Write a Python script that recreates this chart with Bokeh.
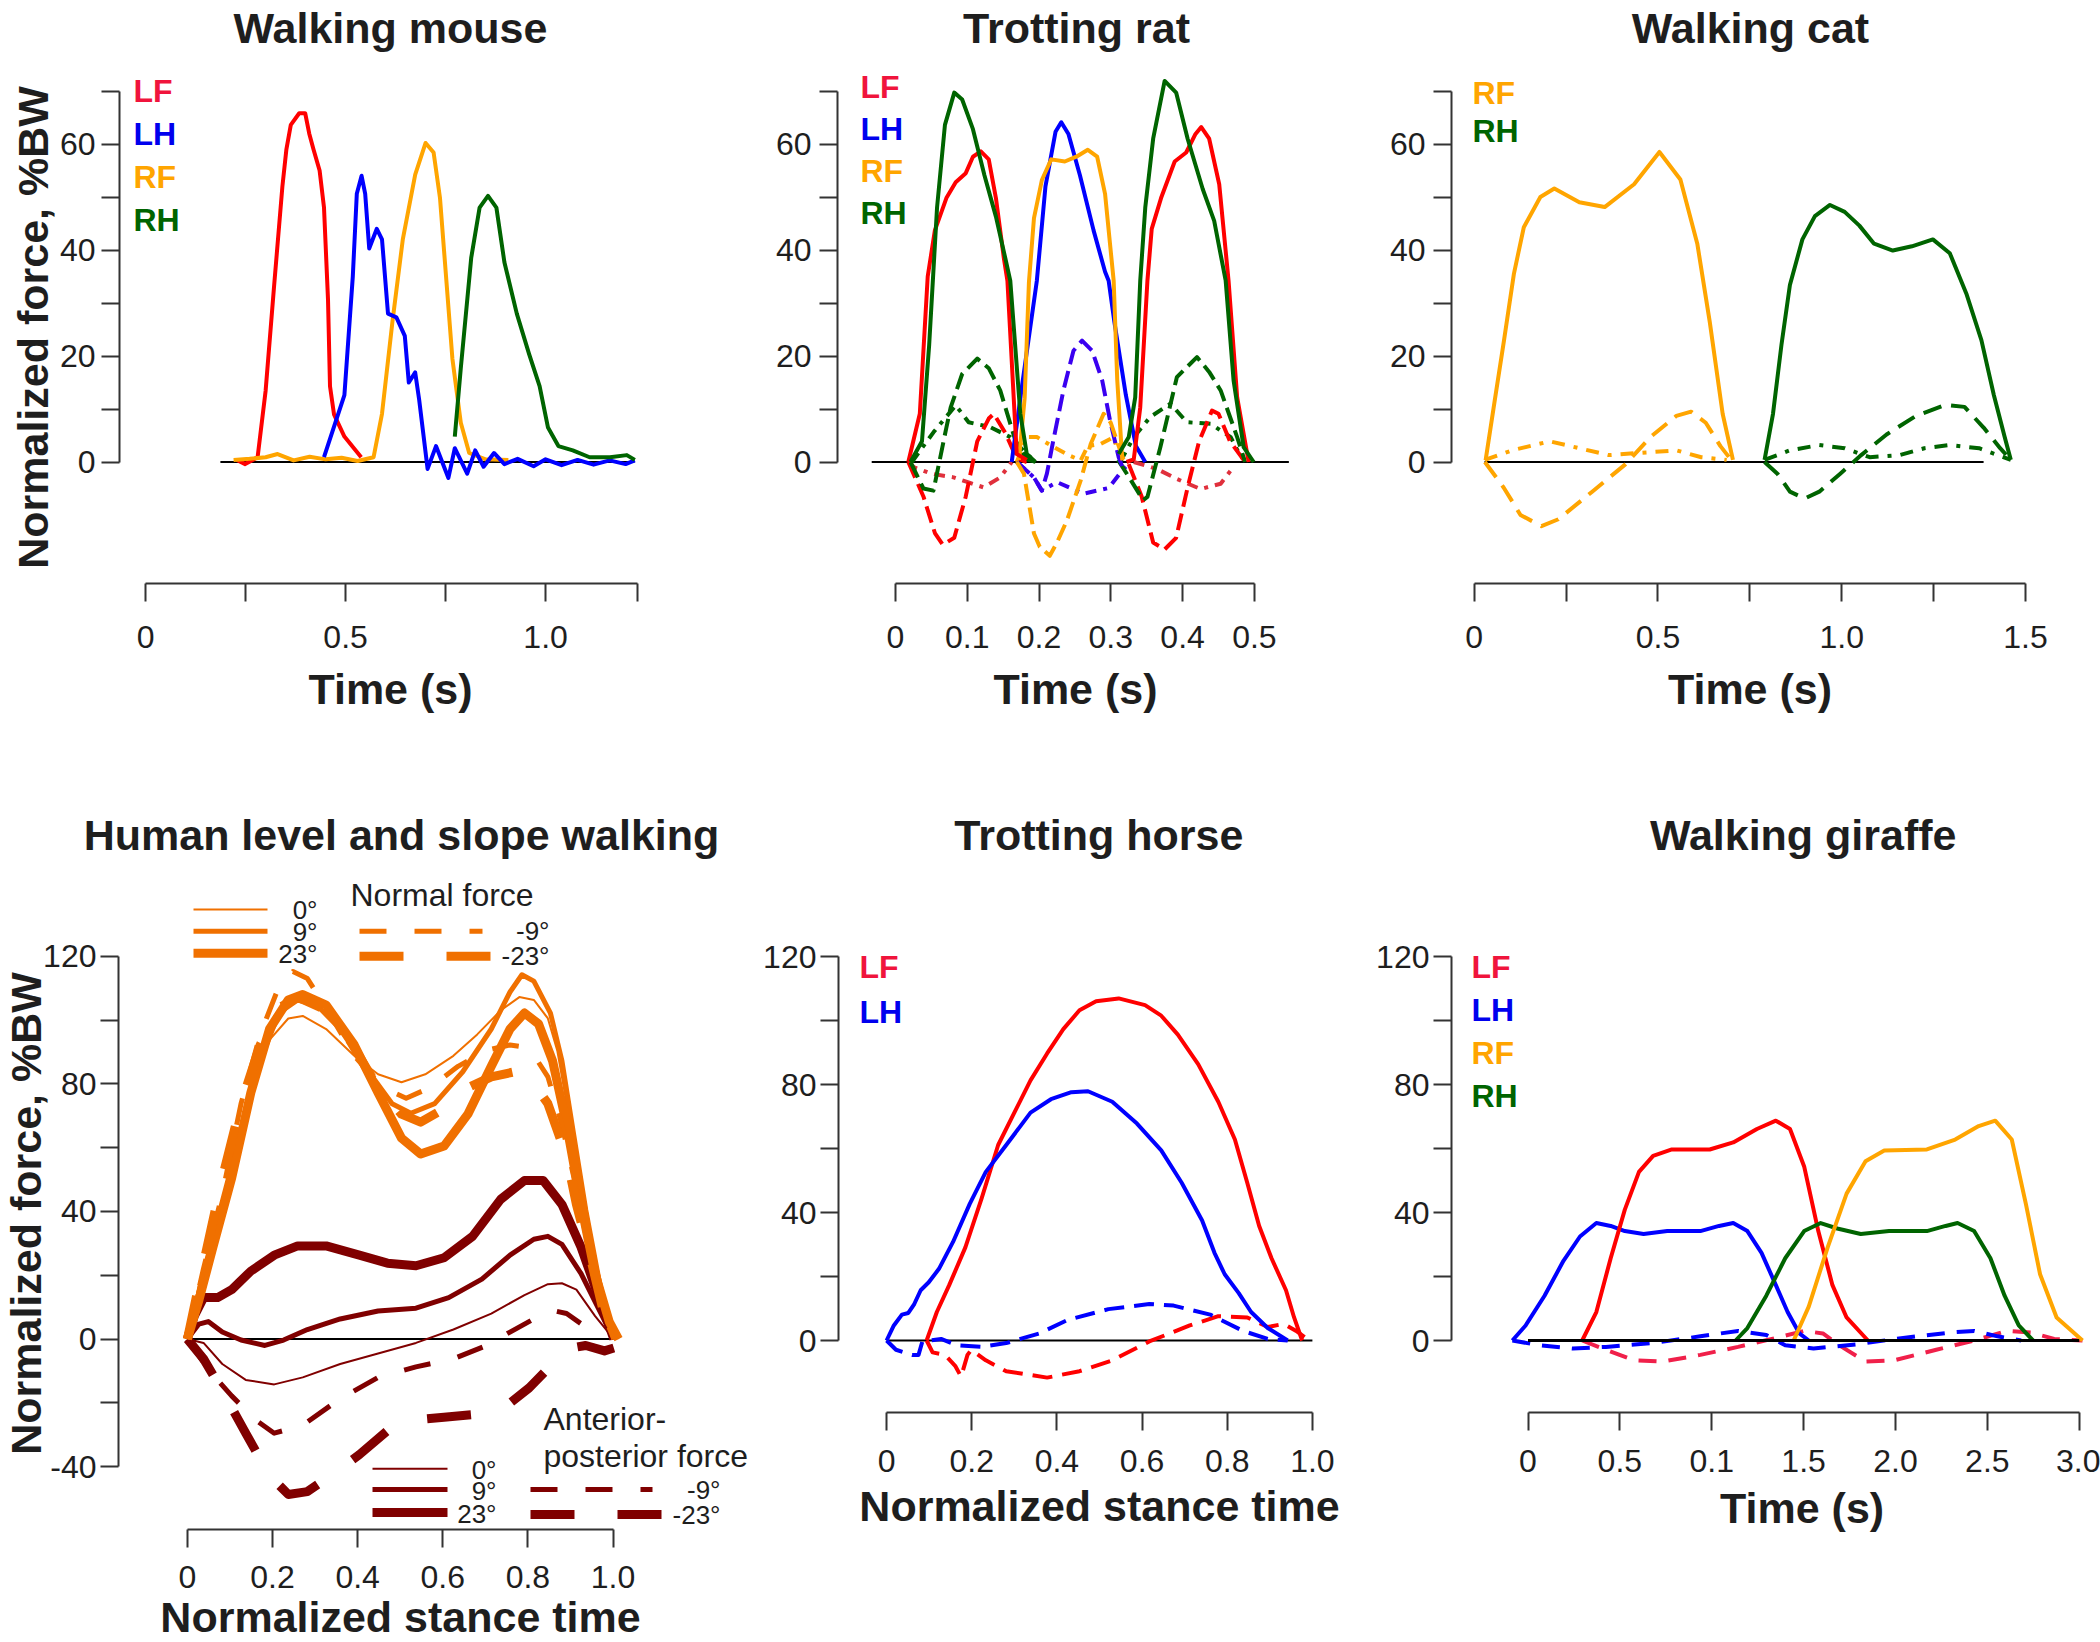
from bokeh.plotting import figure
from bokeh.models import Range1d, FixedTicker, Label, Title
from bokeh.layouts import row, column
from bokeh.embed import file_html
from bokeh.resources import INLINE

FONT = "Liberation Sans"
INK = "#1e1e1e"
AXC = "#333333"
BIG = 43

C_LF, C_LH, C_RF, C_RH = "#ff0000", "#0000ff", "#ffa500", "#006400"
T_LF, T_LH = "#f0143c", "#0000ee"
C_LH2 = "#3a00f0"
C_LF2 = "#e0303c"
C_LF3 = "#f0204a"
C_NORM, C_AP = "#f07000", "#800000"

# ---------------- data ----------------
limbs = ["LF", "LH", "RF", "RH"]
limb_colors = [T_LF, T_LH, C_RF, C_RH]

# Walking mouse (time s, %BW)
mouse_LF_t = [0.228, 0.249, 0.280, 0.300, 0.321, 0.342, 0.352, 0.363, 0.384, 0.399, 0.409, 0.420, 0.435, 0.446, 0.456, 0.461, 0.471, 0.497, 0.539]
mouse_LF_f = [0.4, -0.4, 0.9, 13.4, 33.0, 52.0, 59.0, 63.6, 65.8, 65.8, 62.0, 58.9, 55.0, 48.0, 30.7, 14.3, 9.0, 4.8, 0.9]
mouse_LH_t = [0.446, 0.497, 0.518, 0.528, 0.540, 0.549, 0.559, 0.578, 0.591, 0.606, 0.627, 0.648, 0.658, 0.674, 0.684, 0.705, 0.726, 0.757, 0.773, 0.804, 0.824, 0.845, 0.871, 0.897, 0.93, 0.97, 1.00, 1.04, 1.08, 1.12, 1.16, 1.20, 1.223]
mouse_LH_f = [0.9, 12.6, 35.0, 50.6, 54.0, 50.6, 40.3, 44.0, 42.0, 28.0, 27.3, 23.8, 15.0, 16.9, 11.7, -1.3, 3.0, -3.0, 2.6, -2.2, 2.2, -0.9, 1.7, -0.4, 0.6, -0.8, 0.5, -0.6, 0.4, -0.5, 0.3, -0.4, 0.3]
mouse_RF_t = [0.220, 0.260, 0.300, 0.330, 0.370, 0.410, 0.450, 0.490, 0.530, 0.570, 0.591, 0.617, 0.643, 0.674, 0.700, 0.720, 0.736, 0.751, 0.767, 0.788, 0.809, 0.850, 0.907]
mouse_RF_f = [0.4, 0.6, 0.9, 1.5, 0.3, 1.0, 0.5, 0.8, 0.2, 0.9, 9.1, 26.4, 42.0, 54.2, 60.2, 58.4, 49.8, 35.1, 19.5, 7.4, 1.7, 0.5, 0.4]
mouse_RH_t = [0.773, 0.788, 0.814, 0.835, 0.856, 0.877, 0.897, 0.928, 0.959, 0.985, 1.006, 1.032, 1.068, 1.110, 1.161, 1.203, 1.223]
mouse_RH_f = [4.8, 17.7, 38.5, 48.0, 50.2, 48.0, 37.7, 28.0, 20.3, 14.3, 6.5, 3.0, 2.2, 0.9, 0.9, 1.3, 0.4]
mouse_zero_t = [0.187, 1.222]

# Trotting rat: normal (solid), fore-aft (dashed), medio-lateral (dash-dot)
rat_LF_t1 = [0.018, 0.034, 0.045, 0.055, 0.071, 0.084, 0.098, 0.108, 0.119, 0.130, 0.140, 0.151, 0.156, 0.169, 0.183]
rat_LF_f1 = [0.0, 9.1, 35.0, 43.7, 49.8, 52.8, 54.5, 57.6, 58.6, 57.1, 49.8, 38.5, 34.2, 1.5, 0.4]
rat_LF_t2 = [0.322, 0.332, 0.341, 0.351, 0.357, 0.370, 0.389, 0.405, 0.418, 0.426, 0.437, 0.451, 0.464, 0.476, 0.492]
rat_LF_f2 = [0.0, 0.5, 10.3, 34.2, 44.0, 49.8, 56.7, 58.4, 61.9, 63.2, 61.0, 52.4, 34.2, 12.2, 0.0]
rat_RH_t1 = [0.021, 0.037, 0.047, 0.058, 0.069, 0.082, 0.093, 0.108, 0.124, 0.140, 0.153, 0.160, 0.174, 0.183, 0.195]
rat_RH_f1 = [0.0, 3.9, 22.0, 48.0, 63.6, 69.7, 68.4, 62.8, 54.1, 46.3, 38.5, 34.2, 9.1, 1.5, 0.0]
rat_RH_t2 = [0.311, 0.325, 0.334, 0.341, 0.348, 0.359, 0.375, 0.391, 0.407, 0.428, 0.444, 0.460, 0.471, 0.485, 0.499]
rat_RH_f2 = [1.5, 4.7, 12.2, 34.2, 48.0, 61.0, 71.9, 69.7, 61.0, 51.5, 45.5, 34.2, 15.4, 2.8, 0.0]
rat_LH_t = [0.162, 0.177, 0.197, 0.209, 0.223, 0.231, 0.241, 0.257, 0.276, 0.292, 0.297, 0.305, 0.321, 0.335, 0.348]
rat_LH_f = [0.0, 15.0, 34.2, 52.0, 62.3, 64.1, 61.9, 54.1, 43.7, 35.9, 34.2, 26.4, 12.6, 3.0, 0.0]
rat_RF_t = [0.172, 0.180, 0.186, 0.193, 0.204, 0.217, 0.236, 0.252, 0.268, 0.281, 0.292, 0.304, 0.309, 0.316]
rat_RF_f = [0.4, 12.0, 34.0, 46.0, 53.2, 57.1, 56.7, 57.6, 58.9, 57.6, 50.6, 34.2, 15.4, 0.3]

rat_LF_ap_t1 = [0.018, 0.039, 0.055, 0.066, 0.082, 0.098, 0.114, 0.130, 0.137, 0.153, 0.169, 0.183]
rat_LF_ap_f1 = [0.0, -6.5, -13.4, -15.6, -14.3, -6.5, 3.9, 8.2, 9.1, 5.5, 0.7, 0.0]
rat_LF_ap_t2 = [0.325, 0.343, 0.359, 0.375, 0.391, 0.407, 0.423, 0.441, 0.450, 0.466, 0.487]
rat_LF_ap_f2 = [-0.4, -6.5, -15.2, -16.5, -14.3, -4.8, 3.9, 9.7, 9.1, 3.9, 0.0]
rat_LF_ml_t1 = [0.018, 0.026, 0.050, 0.081, 0.103, 0.123, 0.146, 0.162]
rat_LF_ml_f1 = [0.0, -1.0, -2.2, -2.9, -3.9, -4.8, -2.9, 0.0]
rat_LF_ml_t2 = [0.332, 0.364, 0.392, 0.425, 0.453, 0.467]
rat_LF_ml_f2 = [0.0, -1.3, -3.2, -5.1, -4.1, -1.6]
rat_RH_ap_t1 = [0.021, 0.039, 0.053, 0.071, 0.077, 0.093, 0.114, 0.130, 0.146, 0.167, 0.183, 0.196]
rat_RH_ap_f1 = [0.0, -5.0, -5.4, 6.5, 10.3, 16.6, 19.5, 17.7, 13.5, 4.1, 0.5, 0.0]
rat_RH_ap_t2 = [0.310, 0.326, 0.345, 0.351, 0.369, 0.392, 0.420, 0.437, 0.453, 0.476, 0.487]
rat_RH_ap_f2 = [0.4, -3.0, -7.2, -6.6, 2.8, 16.0, 19.8, 17.0, 13.5, 4.7, 0.0]
rat_RH_ml_t1 = [0.023, 0.053, 0.084, 0.102, 0.132, 0.160, 0.183, 0.196]
rat_RH_ml_f1 = [0.0, 5.6, 10.7, 7.5, 6.6, 4.7, 1.5, 0.0]
rat_RH_ml_t2 = [0.313, 0.332, 0.355, 0.383, 0.406, 0.439, 0.467, 0.481, 0.487]
rat_RH_ml_f2 = [0.0, 4.7, 8.5, 11.0, 7.5, 7.2, 4.7, 1.0, 0.4]
rat_LH_ap_t = [0.169, 0.193, 0.204, 0.211, 0.220, 0.234, 0.248, 0.260, 0.274, 0.288, 0.299, 0.311, 0.318]
rat_LH_ap_f = [0.0, -2.9, -5.4, -2.2, 4.1, 13.5, 21.0, 22.9, 21.0, 15.4, 7.8, 0.9, -1.6]
rat_LH_ml_t = [0.169, 0.193, 0.204, 0.225, 0.262, 0.297, 0.316, 0.327]
rat_LH_ml_f = [0.0, -2.9, -5.4, -3.8, -6.0, -4.9, -1.6, 0.0]
rat_RF_ap_t = [0.169, 0.179, 0.193, 0.201, 0.215, 0.225, 0.239, 0.258, 0.272, 0.290, 0.300, 0.311, 0.319]
rat_RF_ap_f = [0.0, -2.2, -13.5, -16.0, -17.7, -15.2, -11.0, -3.5, 3.4, 9.1, 7.4, 3.0, 0.0]
rat_RF_ml_t = [0.169, 0.183, 0.197, 0.221, 0.241, 0.258, 0.268, 0.286, 0.304, 0.313]
rat_RF_ml_f = [0.0, 4.7, 4.7, 2.8, 1.3, 0.3, 3.0, 3.4, 4.7, 0.5]
rat_zero_t = [-0.033, 0.548]

# Walking cat
cat_RF_t = [0.031, 0.053, 0.081, 0.108, 0.135, 0.180, 0.218, 0.286, 0.355, 0.435, 0.504, 0.561, 0.607, 0.641, 0.676, 0.704]
cat_RF_f = [0.3, 10.3, 22.9, 35.5, 44.3, 50.0, 51.6, 49.0, 48.1, 52.4, 58.5, 53.3, 41.2, 26.4, 9.1, 0.4]
cat_RF_ap_t = [0.029, 0.080, 0.126, 0.183, 0.229, 0.321, 0.412, 0.481, 0.550, 0.590, 0.630, 0.670, 0.699]
cat_RF_ap_f = [0.0, -4.8, -10.0, -12.1, -10.8, -5.6, -0.4, 4.8, 8.7, 9.5, 7.4, 3.0, 0.4]
cat_RF_ml_t = [0.029, 0.103, 0.206, 0.286, 0.366, 0.447, 0.550, 0.618, 0.687]
cat_RF_ml_f = [0.4, 2.2, 3.9, 2.6, 1.3, 1.7, 2.2, 0.9, 0.4]
cat_RH_t = [0.790, 0.813, 0.836, 0.859, 0.893, 0.927, 0.968, 1.008, 1.048, 1.088, 1.139, 1.191, 1.248, 1.294, 1.340, 1.380, 1.414, 1.443, 1.460]
cat_RH_f = [0.4, 9.1, 22.1, 33.4, 42.0, 46.4, 48.5, 47.2, 44.6, 41.2, 39.9, 40.7, 42.0, 39.4, 31.6, 23.0, 12.6, 4.8, 0.4]
cat_RH_ap_t = [0.790, 0.825, 0.859, 0.899, 0.939, 0.996, 1.053, 1.122, 1.202, 1.282, 1.334, 1.386, 1.431, 1.460]
cat_RH_ap_f = [0.0, -2.2, -5.6, -6.9, -5.6, -2.2, 1.3, 5.2, 8.7, 10.8, 10.4, 6.5, 2.6, 0.4]
cat_RH_ml_t = [0.790, 0.859, 0.939, 1.008, 1.076, 1.157, 1.225, 1.294, 1.374, 1.460]
cat_RH_ml_f = [0.4, 2.2, 3.2, 2.6, 0.9, 1.3, 2.6, 3.2, 2.6, 0.4]
cat_zero_t = [0.028, 1.386]

# Human level and slope walking (normalized stance time, %BW)
hum_n0_t = [0, 0.027, 0.060, 0.093, 0.126, 0.160, 0.193, 0.237, 0.271, 0.326, 0.392, 0.448, 0.503, 0.559, 0.625, 0.681, 0.736, 0.780, 0.814, 0.847, 0.869, 0.891, 0.925, 0.958, 0.991, 1.013]
hum_n0_f = [0, 17.2, 33.8, 50.5, 67.2, 83.8, 93.8, 100.5, 101.3, 97.2, 88.8, 83.0, 80.5, 83.0, 88.8, 95.5, 103.0, 107.2, 106.3, 100.5, 90.5, 73.8, 50.5, 25.5, 7.2, 0]
hum_n9_t = [0, 0.038, 0.082, 0.126, 0.171, 0.215, 0.259, 0.304, 0.359, 0.426, 0.481, 0.525, 0.581, 0.647, 0.714, 0.758, 0.786, 0.814, 0.853, 0.880, 0.908, 0.936, 0.969, 1.002]
hum_n9_f = [0, 20.5, 40.5, 63.8, 87.2, 102.2, 106.3, 104.7, 97.2, 83.8, 73.8, 70.8, 73.8, 83.8, 97.2, 108.8, 114.2, 112.2, 102.2, 87.2, 63.8, 40.5, 17.2, 0]
hum_n23_t = [0, 0.027, 0.060, 0.104, 0.149, 0.193, 0.237, 0.271, 0.326, 0.392, 0.448, 0.503, 0.548, 0.603, 0.659, 0.714, 0.758, 0.792, 0.825, 0.858, 0.891, 0.925, 0.958, 0.991, 1.013]
hum_n23_f = [0, 12.2, 28.8, 50.5, 77.2, 97.2, 106.3, 108.0, 104.7, 92.2, 77.2, 63.0, 58.0, 60.5, 70.5, 85.5, 97.2, 102.2, 98.8, 87.2, 67.2, 42.2, 20.5, 5.5, 0]
hum_nm9_t = [0, 0.038, 0.082, 0.126, 0.171, 0.215, 0.248, 0.282, 0.326, 0.392, 0.459, 0.514, 0.570, 0.636, 0.703, 0.758, 0.803, 0.847, 0.880, 0.914, 0.947, 0.980, 1.002]
hum_nm9_f = [0, 22.2, 45.5, 73.8, 95.5, 110.5, 115.2, 113.0, 103.8, 88.8, 78.8, 75.5, 78.8, 85.5, 90.5, 92.2, 91.3, 82.2, 67.2, 47.2, 25.5, 7.2, 0]
hum_nm23_t = [0, 0.038, 0.082, 0.126, 0.171, 0.215, 0.259, 0.315, 0.381, 0.448, 0.503, 0.548, 0.603, 0.659, 0.714, 0.769, 0.803, 0.847, 0.891, 0.914, 0.947, 0.980, 1.002]
hum_nm23_f = [0, 23.8, 50.5, 73.8, 92.2, 103.8, 107.2, 103.8, 93.8, 78.8, 70.5, 68.0, 72.2, 78.8, 82.2, 83.8, 82.2, 73.8, 57.2, 42.2, 25.5, 7.2, 0]
hum_a0_t = [0, 0.038, 0.082, 0.137, 0.204, 0.271, 0.359, 0.448, 0.537, 0.625, 0.714, 0.792, 0.847, 0.880, 0.914, 0.958, 1.002]
hum_a0_f = [0, -1.2, -7.8, -12.8, -14.2, -12.0, -7.8, -4.5, -1.2, 3.0, 8.0, 13.8, 17.2, 17.5, 15.5, 7.2, 0]
hum_a9_t = [0, 0.027, 0.049, 0.082, 0.126, 0.182, 0.226, 0.282, 0.359, 0.448, 0.537, 0.614, 0.692, 0.758, 0.814, 0.847, 0.880, 0.925, 0.969, 1.002]
hum_a9_f = [0, 4.7, 5.5, 2.2, -0.3, -2.0, -0.3, 3.0, 6.3, 8.8, 9.7, 13.0, 18.8, 26.3, 31.3, 32.2, 29.7, 20.5, 8.8, 0]
hum_a23_t = [0, 0.016, 0.038, 0.071, 0.104, 0.149, 0.204, 0.259, 0.326, 0.404, 0.470, 0.537, 0.603, 0.670, 0.736, 0.792, 0.836, 0.880, 0.925, 0.969, 1.002]
hum_a23_f = [0, 7.2, 13.0, 13.0, 15.5, 21.3, 26.3, 29.2, 29.2, 26.3, 23.8, 23.0, 25.5, 32.2, 43.8, 49.7, 49.7, 42.2, 28.8, 12.2, 0]
hum_am9_t = [0, 0.049, 0.104, 0.160, 0.204, 0.271, 0.359, 0.448, 0.537, 0.625, 0.703, 0.758, 0.814, 0.864, 0.891, 0.936, 0.969]
hum_am9_f = [0, -9.5, -17.8, -25.3, -29.5, -27.0, -18.7, -12.0, -8.7, -6.2, -2.0, 2.2, 6.3, 8.8, 8.0, 3.8, 0]
hum_am23_t = [0, 0.038, 0.082, 0.137, 0.193, 0.237, 0.282, 0.337, 0.404, 0.470, 0.537, 0.603, 0.670, 0.747, 0.803, 0.858, 0.902, 0.936, 0.980, 1.002]
hum_am23_f = [0, -6.2, -16.2, -29.5, -42.8, -48.7, -47.8, -42.8, -36.2, -28.7, -25.3, -24.5, -23.7, -21.2, -15.3, -7.8, -2.8, -2.0, -3.7, -2.8]
hum_zero_t = [0.0, 1.0]
slope_labels = ["0°", "9°", "23°", "-9°", "-23°"]

# Trotting horse
horse_LF_t = [0.094, 0.118, 0.147, 0.185, 0.223, 0.262, 0.300, 0.338, 0.377, 0.415, 0.453, 0.492, 0.545, 0.607, 0.645, 0.684, 0.732, 0.779, 0.818, 0.847, 0.875, 0.904, 0.938, 0.957, 0.976]
horse_LF_f = [0, 8.9, 17.3, 29.1, 44.3, 61.1, 71.2, 81.3, 89.7, 97.3, 103.2, 106.0, 106.9, 104.8, 101.5, 95.6, 86.3, 74.6, 62.8, 49.3, 35.8, 25.7, 15.7, 7.2, 0]
horse_LH_t = [0, 0.017, 0.036, 0.051, 0.065, 0.080, 0.099, 0.123, 0.156, 0.195, 0.233, 0.281, 0.338, 0.386, 0.434, 0.473, 0.530, 0.588, 0.645, 0.693, 0.741, 0.770, 0.794, 0.827, 0.856, 0.895, 0.942]
horse_LH_f = [0, 4.7, 8.1, 8.6, 11.4, 15.7, 18.2, 22.4, 30.8, 42.6, 52.7, 61.1, 71.2, 75.4, 77.6, 77.9, 74.6, 67.8, 59.4, 49.3, 37.5, 27.4, 20.7, 14.8, 8.9, 3.9, 0]
horse_LH_ap_t = [0, 0.022, 0.060, 0.075, 0.084, 0.128, 0.166, 0.223, 0.281, 0.358, 0.425, 0.521, 0.617, 0.674, 0.760, 0.837, 0.895, 0.942]
horse_LH_ap_f = [0, -2.9, -4.5, -4.5, -0.3, 0.5, -1.5, -2.0, -0.8, 2.2, 6.4, 9.8, 11.4, 10.9, 8.1, 3.0, 0.5, 0]
horse_LF_ap_t = [0.094, 0.108, 0.137, 0.161, 0.175, 0.190, 0.199, 0.233, 0.281, 0.377, 0.453, 0.530, 0.617, 0.712, 0.779, 0.847, 0.895, 0.933, 0.962, 0.992]
horse_LF_ap_f = [0, -3.7, -4.5, -7.9, -11.3, -4.5, -2.9, -6.2, -9.6, -11.6, -9.6, -6.2, -0.3, 4.7, 7.6, 7.2, 4.2, 5.2, 3.0, 0]
horse_zero_t = [0.0, 1.0]

# Walking giraffe
gir_LH_t = [-0.085, -0.013, 0.090, 0.193, 0.283, 0.372, 0.450, 0.527, 0.629, 0.758, 0.938, 1.040, 1.117, 1.194, 1.271, 1.349, 1.413, 1.477, 1.528]
gir_LH_f = [0, 4.7, 14.0, 24.9, 32.5, 36.7, 35.8, 34.2, 33.3, 34.2, 34.2, 35.8, 36.7, 34.2, 27.4, 17.3, 8.9, 2.2, 0]
gir_LF_t = [0.295, 0.372, 0.450, 0.527, 0.604, 0.681, 0.783, 0.989, 1.117, 1.246, 1.349, 1.426, 1.503, 1.580, 1.657, 1.734, 1.850]
gir_LF_f = [0, 8.9, 25.7, 40.9, 52.7, 57.7, 59.7, 59.7, 61.9, 66.1, 68.7, 66.1, 54.4, 34.2, 17.3, 7.2, 0]
gir_RH_t = [1.130, 1.194, 1.297, 1.400, 1.503, 1.593, 1.683, 1.811, 1.965, 2.171, 2.273, 2.338, 2.428, 2.517, 2.594, 2.671, 2.749]
gir_RH_f = [0, 3.9, 14.0, 25.7, 34.2, 36.7, 35.0, 33.3, 34.2, 34.2, 35.8, 36.7, 34.2, 25.7, 14.0, 4.7, 0]
gir_RF_t = [1.446, 1.528, 1.631, 1.734, 1.837, 1.939, 2.171, 2.325, 2.453, 2.543, 2.633, 2.710, 2.787, 2.877, 3.018]
gir_RF_f = [0, 10.6, 29.1, 45.9, 56.0, 59.4, 59.7, 62.8, 67.0, 68.7, 62.8, 42.6, 20.7, 7.2, 0]
gir_LH_ap_t = [-0.085, 0.064, 0.244, 0.424, 0.681, 0.938, 1.143, 1.297, 1.400, 1.554, 1.785, 2.042, 2.299, 2.428, 2.556, 2.684]
gir_LH_ap_f = [0, -1.5, -2.5, -2.0, -0.8, 1.3, 3.0, 1.7, -1.5, -2.5, -1.2, 0.8, 2.5, 3.0, 1.3, 0]
gir_LF_ap_t = [0.295, 0.424, 0.578, 0.732, 0.938, 1.143, 1.349, 1.503, 1.605, 1.708, 1.837, 1.991, 2.222, 2.428, 2.607, 2.736, 2.864, 3.018]
gir_LF_ap_f = [0, -2.9, -6.2, -6.6, -4.5, -2.0, 0.8, 3.0, 2.2, -2.0, -6.6, -6.2, -2.9, 0, 3.0, 2.5, 0.5, 0]
gir_zero_t = [0.0, 3.0]

# ticks
mouse_xticks = [0, 0.25, 0.5, 0.75, 1.0, 1.23]
mouse_xlabels = ["0", "", "0.5", "", "1.0", ""]
rat_xticks = [0, 0.1, 0.2, 0.3, 0.4, 0.5]
rat_xlabels = ["0", "0.1", "0.2", "0.3", "0.4", "0.5"]
cat_xticks = [0, 0.25, 0.5, 0.75, 1.0, 1.25, 1.5]
cat_xlabels = ["0", "", "0.5", "", "1.0", "", "1.5"]
top_yticks = [0, 10, 20, 30, 40, 50, 60, 70]
top_ylabels = ["0", "", "20", "", "40", "", "60", ""]
stance_xticks = [0, 0.2, 0.4, 0.6, 0.8, 1.0]
stance_xlabels = ["0", "0.2", "0.4", "0.6", "0.8", "1.0"]
hum_yticks = [-40, -20, 0, 20, 40, 60, 80, 100, 120]
hum_ylabels = ["-40", "", "0", "", "40", "", "80", "", "120"]
bot_yticks = [0, 20, 40, 60, 80, 100, 120]
bot_ylabels = ["0", "", "40", "", "80", "", "120"]
gir_xticks = [0, 0.5, 1.0, 1.5, 2.0, 2.5, 3.0]
gir_xlabels = ["0", "0.5", "0.1", "1.5", "2.0", "2.5", "3.0"]

YLAB = "Normalized force, %BW"
XLAB_T = "Time (s)"
XLAB_S = "Normalized stance time"

# Arial/Liberation Sans Bold advance widths (1/1000 em) for centring texts
BOLD_W = {" ": 278, "(": 333, ")": 333, ",": 278, "%": 889, "T": 611, "N": 722, "H": 722, "W": 944, "B": 722,
          "a": 556, "c": 556, "d": 611, "e": 556, "f": 333, "g": 611, "h": 611, "i": 278, "k": 556, "l": 278,
          "m": 889, "n": 611, "o": 611, "p": 611, "r": 389, "s": 556, "t": 333, "u": 611, "v": 556, "w": 778, "z": 500}


def text_w(s, size):
    return sum(BOLD_W.get(ch, 600) for ch in s) * size / 1000.0


# ---------------- helpers ----------------
def make_panel(fx, fy, w, h, bl, br, bt, bb, xcal, ycal, title=None):
    L, R = fx + bl, fx + w - br
    T, B = fy + bt, fy + h - bb
    xv0, xp0, xv1, xp1 = xcal
    yv0, yp0, yv1, yp1 = ycal

    def X(px):
        return xv0 + (px - xp0) * (xv1 - xv0) / (xp1 - xp0)

    def Y(py):
        return yv0 + (py - yp0) * (yv1 - yv0) / (yp1 - yp0)

    p = figure(width=w, height=h, x_range=Range1d(X(L), X(R)), y_range=Range1d(Y(B), Y(T)),
               output_backend="svg", toolbar_location=None, title=title,
               min_border_left=bl, min_border_right=br, min_border_top=bt, min_border_bottom=bb)
    p.outline_line_color = None
    p.xgrid.visible = False
    p.ygrid.visible = False
    p.background_fill_color = "white"
    p.border_fill_color = "white"
    try:
        p.frame_align = False
    except Exception:
        pass
    return p, X, Y, L, B


def style_axis(ax, ticks, labels, std, label=None, lstd=0):
    ax.ticker = FixedTicker(ticks=ticks)
    ax.major_label_overrides = {t: s for t, s in zip(ticks, labels)}
    ax.bounds = (ticks[0], ticks[-1])
    ax.axis_line_color = AXC
    ax.axis_line_width = 2
    ax.major_tick_line_color = AXC
    ax.major_tick_line_width = 2
    ax.major_tick_out = 18
    ax.major_tick_in = 0
    ax.minor_tick_out = 0
    ax.minor_tick_in = 0
    ax.major_label_text_font = FONT
    ax.major_label_text_font_size = "32px"
    ax.major_label_text_color = INK
    ax.major_label_standoff = std
    if label:
        ax.axis_label = label
        ax.axis_label_text_font = FONT
        ax.axis_label_text_font_size = f"{BIG}px"
        ax.axis_label_text_font_style = "bold"
        ax.axis_label_text_color = INK
        ax.axis_label_standoff = lstd


def side_title(p, s, side, offset, valign, standoff):
    t = Title(text=s, align="left", offset=offset, vertical_align=valign, standoff=standoff,
              text_font=FONT, text_font_size=f"{BIG}px", text_font_style="bold", text_color=INK)
    p.add_layout(t, side)


def top_title(p, s, frame_left, center, standoff):
    p.title.text = s
    p.title.align = "left"
    p.title.offset = center - text_w(s, BIG) / 2 - frame_left
    p.title.vertical_align = "bottom"
    p.title.standoff = standoff
    p.title.text_font = FONT
    p.title.text_font_size = f"{BIG}px"
    p.title.text_font_style = "bold"
    p.title.text_color = INK


def curve(p, t, f, color, width=4, dash="solid"):
    p.line(x=t, y=f, line_color=color, line_width=width, line_dash=dash, line_join="round")


def zero(p, t, width=2):
    p.line(x=t, y=[0, 0], line_color="black", line_width=width)


def text(p, x, y, s, size, color=INK, bold=False, align="left", baseline="middle"):
    p.add_layout(Label(x=x, y=y, text=s, text_font=FONT, text_font_size=f"{size}px",
                       text_font_style="bold" if bold else "normal", text_color=color,
                       text_align=align, text_baseline=baseline))


def legend(p, X, Y, xpx, ypx, step, names, colors):
    for i, (n, c) in enumerate(zip(names, colors)):
        text(p, X(xpx), Y(ypx + i * step), n, 32, color=c, bold=True)


# ---------------- row 1 ----------------
TOP_Y = (0, 461.5, 70, 90.5)
TITLE_Y1 = 27

p1, X1, Y1, L1, B1 = make_panel(0, 0, 767, 770, 119, 106, 0, 187, (0, 145.1, 1.0, 545.1), TOP_Y)
style_axis(p1.xaxis[0], mouse_xticks, mouse_xlabels, 24, XLAB_T, 14)
style_axis(p1.yaxis[0], top_yticks, top_ylabels, 6)
side_title(p1, YLAB, "left", B1 - (327 + text_w(YLAB, BIG) / 2), "bottom", 0)
zero(p1, mouse_zero_t)
curve(p1, mouse_LF_t, mouse_LF_f, C_LF)
curve(p1, mouse_RF_t, mouse_RF_f, C_RF)
curve(p1, mouse_LH_t, mouse_LH_f, C_LH)
curve(p1, mouse_RH_t, mouse_RH_f, C_RH)
legend(p1, X1, Y1, 133, 90, 43, limbs, limb_colors)
text(p1, X1(390), Y1(TITLE_Y1), "Walking mouse", BIG, bold=True, align="center")

p2, X2, Y2, L2, B2 = make_panel(767, 0, 614, 770, 70, 68, 0, 187, (0, 894.9, 0.5, 1253.9), TOP_Y)
style_axis(p2.xaxis[0], rat_xticks, rat_xlabels, 24, XLAB_T, 14)
style_axis(p2.yaxis[0], top_yticks, top_ylabels, 8)
zero(p2, rat_zero_t)
DR, DDR = "17 7", "11 7 4 7"
curve(p2, rat_LF_ml_t1, rat_LF_ml_f1, C_LF2, dash=DDR)
curve(p2, rat_LF_ml_t2, rat_LF_ml_f2, C_LF2, dash=DDR)
curve(p2, rat_RH_ml_t1, rat_RH_ml_f1, C_RH, dash=DDR)
curve(p2, rat_RH_ml_t2, rat_RH_ml_f2, C_RH, dash=DDR)
curve(p2, rat_LH_ml_t, rat_LH_ml_f, C_LH2, dash=DDR)
curve(p2, rat_RF_ml_t, rat_RF_ml_f, C_RF, dash=DDR)
curve(p2, rat_LF_ap_t1, rat_LF_ap_f1, C_LF, dash=DR)
curve(p2, rat_LF_ap_t2, rat_LF_ap_f2, C_LF, dash=DR)
curve(p2, rat_RH_ap_t1, rat_RH_ap_f1, C_RH, dash=DR)
curve(p2, rat_RH_ap_t2, rat_RH_ap_f2, C_RH, dash=DR)
curve(p2, rat_LH_ap_t, rat_LH_ap_f, C_LH2, dash=DR)
curve(p2, rat_RF_ap_t, rat_RF_ap_f, C_RF, dash=DR)
curve(p2, rat_LH_t, rat_LH_f, C_LH)
curve(p2, rat_RF_t, rat_RF_f, C_RF)
curve(p2, rat_LF_t1, rat_LF_f1, C_LF)
curve(p2, rat_LF_t2, rat_LF_f2, C_LF)
curve(p2, rat_RH_t1, rat_RH_f1, C_RH)
curve(p2, rat_RH_t2, rat_RH_f2, C_RH)
legend(p2, X2, Y2, 860, 86, 42, limbs, limb_colors)
text(p2, X2(1076), Y2(TITLE_Y1), "Trotting rat", BIG, bold=True, align="center")

p3, X3, Y3, L3, B3 = make_panel(1381, 0, 719, 770, 70, 52, 0, 187, (0, 1473.7, 1.5, 2025.0), TOP_Y)
style_axis(p3.xaxis[0], cat_xticks, cat_xlabels, 24, XLAB_T, 14)
style_axis(p3.yaxis[0], top_yticks, top_ylabels, 8)
zero(p3, cat_zero_t)
DC, DDC = "19 10", "13 9 4 9"
curve(p3, cat_RF_ml_t, cat_RF_ml_f, C_RF, dash=DDC)
curve(p3, cat_RF_ap_t, cat_RF_ap_f, C_RF, dash=DC)
curve(p3, cat_RF_t, cat_RF_f, C_RF)
curve(p3, cat_RH_ml_t, cat_RH_ml_f, C_RH, dash=DDC)
curve(p3, cat_RH_ap_t, cat_RH_ap_f, C_RH, dash=DC)
curve(p3, cat_RH_t, cat_RH_f, C_RH)
legend(p3, X3, Y3, 1472, 92, 38, limbs[2:], limb_colors[2:])
text(p3, X3(1750), Y3(TITLE_Y1), "Walking cat", BIG, bold=True, align="center")

# ---------------- row 2 ----------------
BOT_Y = (0, 1340.0, 120, 956.0)

p4, X4, Y4, L4, B4 = make_panel(0, 770, 756, 870, 118, 0, 110, 109, (0, 186.9, 1.0, 612.5), BOT_Y, title="")
style_axis(p4.xaxis[0], stance_xticks, stance_xlabels, 18)
style_axis(p4.yaxis[0], hum_yticks, hum_ylabels, 4)
side_title(p4, YLAB, "left", B4 - (1215 + text_w(YLAB, BIG) / 2), "bottom", -18)
side_title(p4, XLAB_S, "below", 400 - text_w(XLAB_S, BIG) / 2 - L4, "bottom", 0)
top_title(p4, "Human level and slope walking", L4, 401, 43)
zero(p4, hum_zero_t)
D9, D23 = "27 28", "44 43"
curve(p4, hum_a0_t, hum_a0_f, C_AP, 2)
curve(p4, hum_a9_t, hum_a9_f, C_AP, 5)
curve(p4, hum_a23_t, hum_a23_f, C_AP, 9)
curve(p4, hum_am9_t, hum_am9_f, C_AP, 5, D9)
curve(p4, hum_am23_t, hum_am23_f, C_AP, 9, D23)
curve(p4, hum_n0_t, hum_n0_f, C_NORM, 2)
curve(p4, hum_n9_t, hum_n9_f, C_NORM, 5)
curve(p4, hum_n23_t, hum_n23_f, C_NORM, 9)
curve(p4, hum_nm9_t, hum_nm9_f, C_NORM, 5, D9)
curve(p4, hum_nm23_t, hum_nm23_f, C_NORM, 9, D23)


def slope_key(p, X, Y, color, x_solid, x_lab1, x_dash, x_lab2, ys, yd):
    widths = [2, 5, 9]
    for i in range(3):
        p.line(x=[X(x_solid[0]), X(x_solid[1])], y=[Y(ys[i])] * 2, line_color=color, line_width=widths[i])
        text(p, X(x_lab1), Y(ys[i] + 1), slope_labels[i], 26, align="right")
    for j, (wd, dd) in enumerate([(5, D9), (9, D23)]):
        p.line(x=[X(x_dash[j][0]), X(x_dash[j][1])], y=[Y(yd[j])] * 2, line_color=color, line_width=wd, line_dash=dd)
        text(p, X(x_lab2), Y(yd[j]), slope_labels[3 + j], 26, align="right")


slope_key(p4, X4, Y4, C_NORM, (193, 267), 317, [(359, 482), (359, 491)], 549, [909, 931, 953], [931, 956])
text(p4, X4(350), Y4(895), "Normal force", 32)
slope_key(p4, X4, Y4, C_AP, (372, 447), 496, [(530, 652), (530, 661)], 720, [1470, 1491, 1514], [1491, 1516])
text(p4, X4(543), Y4(1420), "Anterior-", 32)
text(p4, X4(543), Y4(1457), "posterior force", 32)

p5, X5, Y5, L5, B5 = make_panel(756, 770, 613, 870, 82, 9, 110, 228, (0, 886.1, 1.0, 1311.9), BOT_Y, title="")
style_axis(p5.xaxis[0], stance_xticks, stance_xlabels, 19, XLAB_S, 7)
style_axis(p5.yaxis[0], bot_yticks, bot_ylabels, 4)
top_title(p5, "Trotting horse", L5, 1099.5, 43)
zero(p5, horse_zero_t)
DH = "20 10"
curve(p5, horse_LF_ap_t, horse_LF_ap_f, C_LF, dash=DH)
curve(p5, horse_LH_ap_t, horse_LH_ap_f, C_LH, dash=DH)
curve(p5, horse_LF_t, horse_LF_f, C_LF)
curve(p5, horse_LH_t, horse_LH_f, C_LH)
legend(p5, X5, Y5, 859, 966, 45, limbs[:2], limb_colors[:2])

p6, X6, Y6, L6, B6 = make_panel(1369, 770, 731, 870, 82, 0, 110, 228, (0, 1527.5, 3.0, 2078.7), BOT_Y, title="")
style_axis(p6.xaxis[0], gir_xticks, gir_xlabels, 19)
style_axis(p6.yaxis[0], bot_yticks, bot_ylabels, 4)
side_title(p6, XLAB_T, "below", 1802 - text_w(XLAB_T, BIG) / 2 - L6, "top", 18)
top_title(p6, "Walking giraffe", L6, 1803.5, 43)
DG = "18 12"
curve(p6, gir_LF_ap_t, gir_LF_ap_f, C_LF3, dash=DG)
curve(p6, gir_LH_ap_t, gir_LH_ap_f, C_LH, dash=DG)
curve(p6, gir_LH_t, gir_LH_f, C_LH)
curve(p6, gir_LF_t, gir_LF_f, C_LF)
curve(p6, gir_RH_t, gir_RH_f, C_RH)
curve(p6, gir_RF_t, gir_RF_f, C_RF)
zero(p6, gir_zero_t, 3)
legend(p6, X6, Y6, 1471, 966, 43, limbs, limb_colors)

layout = column(row(p1, p2, p3), row(p4, p5, p6))
open("out.html", "w").write(file_html(layout, INLINE))
